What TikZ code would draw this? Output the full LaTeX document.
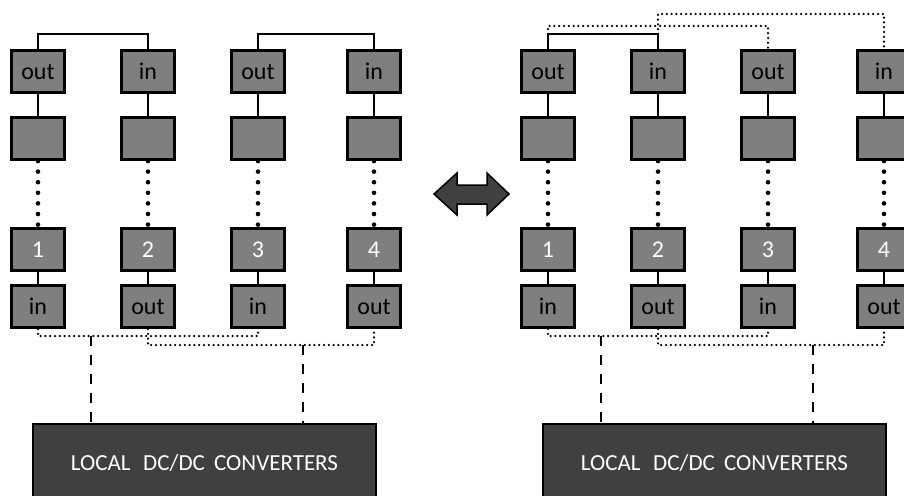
\documentclass[tikz,border=0pt]{standalone}
\usepackage{fontspec}
\setmainfont{Carlito}
\definecolor{cellgray}{HTML}{7F7F7F}
\definecolor{convgray}{HTML}{404040}
\begin{document}
\begin{tikzpicture}[x=1pt,y=-1pt,
  cell/.style={draw=black, fill=cellgray, line width=2.7pt, minimum width=53.3pt, minimum height=42.3pt, inner sep=0pt, font=\fontsize{24}{26}\selectfont},
  numcell/.style={cell, text=white},
  conv/.style={draw=black, fill=convgray, line width=2.2pt, minimum width=343pt, minimum height=78pt, inner sep=0pt, text=white, font=\fontsize{23}{25}\selectfont},
  wire/.style={line width=2.4pt},
  chain/.style={line width=4.6pt, line cap=round, dash pattern=on 0pt off 10.6pt},
  fine/.style={line width=2.5pt, line cap=round, dash pattern=on 0pt off 4.8pt},
  feed/.style={line width=2.6pt, dash pattern=on 10pt off 9pt},
  swap/.style={draw=black, fill=convgray, line width=1.5pt, line join=miter}
]
\clip (0,0) rectangle (904,495);
\fill[white] (0,0) rectangle (904,495);

\foreach \p/\ox in {L/0, R/510} {
  \foreach \c/\x/\tl/\bl in {1/38/out/in, 2/148/in/out, 3/258/out/in, 4/374/in/out} {
    \node[cell] (\p\c t) at ({\x+\ox},71.5) {\tl};
    \node[cell] (\p\c m) at ({\x+\ox},138.5) {};
    \node[numcell] (\p\c n) at ({\x+\ox},249.5) {\c};
    \node[cell] (\p\c b) at ({\x+\ox},306.5) {\bl};
    \draw[wire] (\p\c t) -- (\p\c m);
    \draw[chain] (\p\c m.south) -- (\p\c n.north);
    \draw[wire] (\p\c n) -- (\p\c b);
  }
  \node[conv] (\p conv) at ({204.5+\ox},463) {LOCAL\hspace{0.55em}DC/DC\hspace{0.4em}CONVERTERS};
  \draw[fine] (\p1b.south) -- ++(0,7) coordinate (\p d1) -| (\p3b.south);
  \draw[fine] (\p2b.south) -- ++(0,16) coordinate (\p d2) -| (\p4b.south);
  \coordinate (\p f1) at ({91+\ox},336);
  \coordinate (\p f2) at ({303+\ox},345);
  \draw[feed] (\p f1) -- (\p f1 |- \p conv.north);
  \draw[feed] (\p f2) -- (\p f2 |- \p conv.north);
}

% left: top links
\draw[wire] (L1t.north) -- ++(0,-15) -| (L2t.north);
\draw[wire] (L3t.north) -- ++(0,-15) -| (L4t.north);

% right: top links
\draw[wire] (R1t.north) -- ++(0,-15) coordinate (R1j) -| (R2t.north);
\coordinate (R2j) at (R2t.north |- R1j);
\draw[fine] (R1j) -- ++(0,-8) -| (R3t.north);
\draw[fine] (R2j) -- ++(0,-20) -| (R4t.north);

% swap arrow
\draw[swap] (434,194) -- (457,173) -- (457,185) -- (487,185) -- (487,173)
  -- (509,194) -- (487,215) -- (487,204) -- (457,204) -- (457,215) -- cycle;
\end{tikzpicture}
\end{document}
